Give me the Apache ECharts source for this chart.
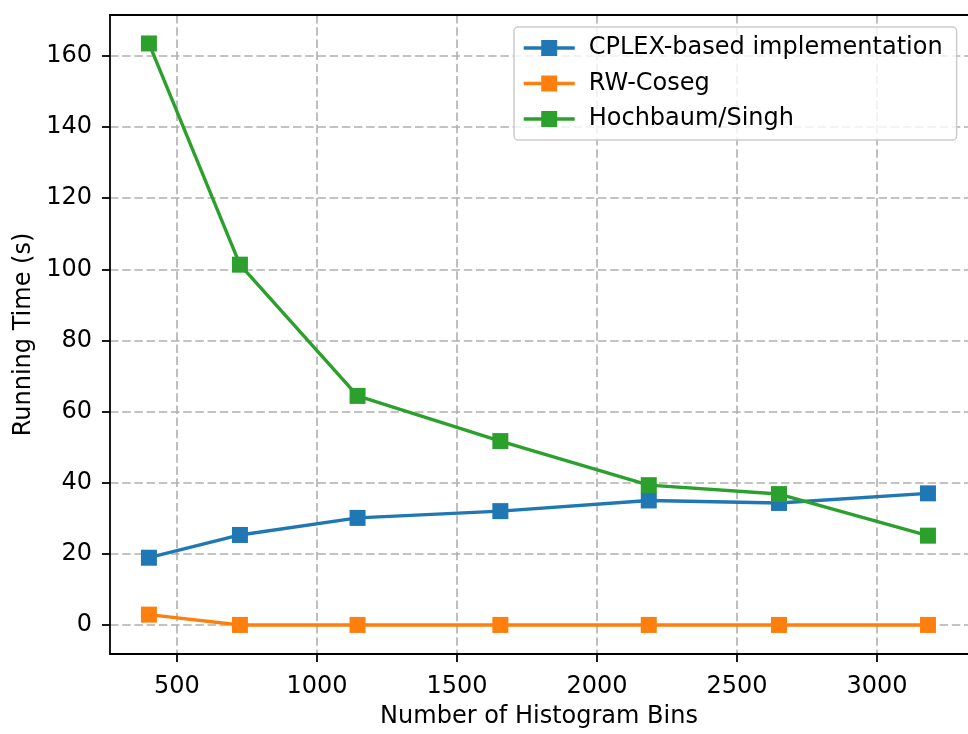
<!DOCTYPE html>
<html>
<head>
<meta charset="utf-8">
<script src="https://cdn.jsdelivr.net/npm/echarts@6/dist/echarts.min.js"></script>
<style>
html,body{margin:0;padding:0;background:#fff;}
#chart{width:968px;height:734px;}
</style>
</head>
<body>
<div id="chart"></div>
<script>
const bins = [400, 725, 1145, 1655, 2185, 2650, 3182];
const cplex = [18.9, 25.3, 30.1, 32.0, 35.0, 34.3, 37.0];
const rwCoseg = [2.9, 0, 0, 0, 0, 0, 0];
const hochbaum = [163.5, 101.3, 64.4, 51.7, 39.3, 36.8, 25.1];
const xTicks = [500, 1000, 1500, 2000, 2500, 3000];
const yTicks = [0, 20, 40, 60, 80, 100, 120, 140, 160];
const seriesNames = ['CPLEX-based implementation', 'RW-Coseg', 'Hochbaum/Singh'];
const colors = ['#1f77b4', '#ff7f0e', '#2ca02c'];

const FONT = 'DejaVu Sans';
const FS = 24;

function pairs(ys) { return bins.map((x, i) => [x, ys[i]]); }

const chart = echarts.init(document.getElementById('chart'), null, {renderer: 'canvas'});
const gridStyle = {show: true, lineStyle: {color: '#b0b0b0', width: 1.6, type: [8.5, 3.7]}};
const spine = {show: true, onZero: false, lineStyle: {color: '#000', width: 1.8}};
const option = {
  animation: false,
  backgroundColor: '#fff',
  grid: {left: 110, right: 0, top: 15, bottom: 79, show: false},
  xAxis: [{
    type: 'value', min: 261, max: 3325,
    name: 'Number of Histogram Bins', nameLocation: 'middle', nameGap: 51,
    nameTextStyle: {fontFamily: FONT, fontSize: FS, color: '#000'},
    axisLine: spine,
    axisTick: {show: true, length: 8, inside: false, customValues: xTicks, lineStyle: {color: '#000', width: 1.8}},
    axisLabel: {customValues: xTicks, margin: 21, fontFamily: FONT, fontSize: FS, color: '#000', formatter: v => String(v)},
    splitLine: gridStyle
  }, {
    type: 'value', min: 261, max: 3325, position: 'top',
    axisLine: spine, axisTick: {show: false}, axisLabel: {show: false}, splitLine: {show: false}
  }],
  yAxis: {
    type: 'value', min: -8.17, max: 171.5,
    name: 'Running Time (s)', nameLocation: 'middle', nameGap: 74,
    nameTextStyle: {fontFamily: FONT, fontSize: FS, color: '#000'},
    axisLine: spine,
    axisTick: {show: true, length: 8, inside: false, customValues: yTicks, lineStyle: {color: '#000', width: 1.8}},
    axisLabel: {customValues: yTicks, margin: 18, fontFamily: FONT, fontSize: FS, color: '#000', formatter: v => String(v)},
    splitLine: gridStyle
  },
  legend: {
    left: 514, top: 27,
    orient: 'vertical',
    data: seriesNames,
    itemWidth: 51, itemHeight: 20, itemGap: 7.5,
    padding: [7, 14, 7, 8],
    backgroundColor: 'rgba(255,255,255,0.8)',
    borderColor: '#cccccc', borderWidth: 1.5, borderRadius: 4,
    lineStyle: {width: 3.4},
    textStyle: {fontFamily: FONT, fontSize: FS, color: '#000', lineHeight: 28, padding: [0, 0, 0, 9]}
  },
  series: [cplex, rwCoseg, hochbaum].map((ys, i) => ({
    name: seriesNames[i],
    type: 'line',
    xAxisIndex: 0,
    data: pairs(ys),
    symbol: 'rect',
    symbolSize: 16,
    showAllSymbol: true,
    itemStyle: {color: colors[i], borderColor: colors[i], borderWidth: 0},
    lineStyle: {color: colors[i], width: 3.4},
    z: 2 + i
  }))
};
chart.setOption(option);
</script>
</body>
</html>
